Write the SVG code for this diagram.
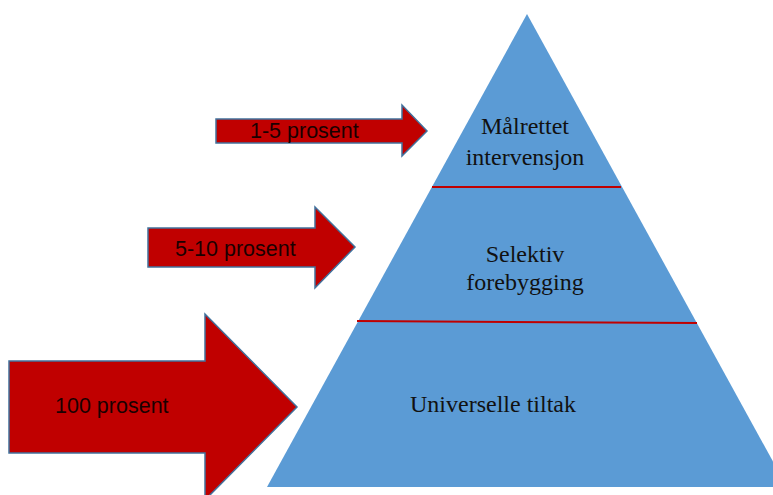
<svg xmlns="http://www.w3.org/2000/svg" width="773" height="495" viewBox="0 0 773 495">
<style>
.arrow{fill:#C00000;stroke:#41719C;stroke-width:1.5;stroke-linejoin:miter}
.alabel{font-family:"Liberation Sans",Arial,sans-serif;font-size:21.5px;fill:#1a0000}
.plabel{font-family:"Liberation Serif","Times New Roman",serif;font-size:24px;fill:#111;text-anchor:middle}
.divider{stroke:#C00000;stroke-width:2}
</style>
<rect width="773" height="495" fill="#ffffff"/>
<g id="pyramid">
<polygon points="527,14 267,487 787,487" fill="#5B9BD5"/>
<line class="divider" x1="432" y1="187" x2="621" y2="187" stroke-width="1.5"/>
<line class="divider" x1="357" y1="321" x2="697" y2="323"/>
</g>
<g id="level-top">
<text class="plabel" x="525" y="134">Målrettet</text>
<text class="plabel" x="525" y="165">intervensjon</text>
</g>
<g id="level-middle">
<text class="plabel" x="525" y="262">Selektiv</text>
<text class="plabel" x="525" y="290">forebygging</text>
</g>
<g id="level-bottom">
<text class="plabel" x="493" y="412">Universelle tiltak</text>
</g>
<g id="arrow-1-5">
<polygon class="arrow" points="216,119 402,119 402,105 427,131 402,156 402,143 216,143"/>
<text class="alabel" x="250" y="138">1-5 prosent</text>
</g>
<g id="arrow-5-10">
<polygon class="arrow" points="148,228 315,228 315,207 355,247 315,288 315,267 148,267"/>
<text class="alabel" x="175" y="256">5-10 prosent</text>
</g>
<g id="arrow-100">
<polygon class="arrow" points="9,361 205,361 205,314 297,407 205,500 205,453 9,453"/>
<text class="alabel" x="55" y="413">100 prosent</text>
</g>
</svg>
